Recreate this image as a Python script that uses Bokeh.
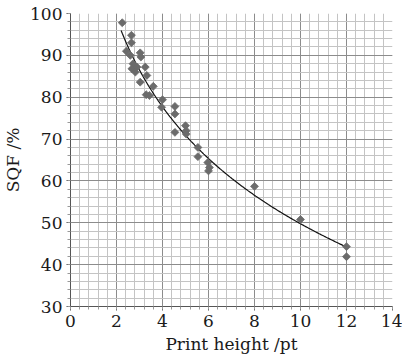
import numpy as np
from bokeh.plotting import figure
from bokeh.models import SingleIntervalTicker, Range1d
from bokeh.embed import file_html
from bokeh.resources import INLINE

# measured points (print height in pt, SQF in %)
height_pt = [2.25, 2.65, 2.65, 2.43, 2.60, 3.03, 3.06, 2.72, 2.67, 2.89,
             3.25, 2.82, 3.03, 3.32, 3.60, 3.29, 3.43, 4.00, 3.96, 4.54,
             4.54, 5.00, 5.03, 4.54, 5.03, 5.54, 5.54, 5.97, 6.04, 6.00,
             8.00, 10.0, 12.0, 12.0]
sqf_pct = [97.8, 94.8, 93.0, 91.0, 90.0, 90.6, 89.6, 88.0, 86.8, 87.2,
           87.2, 86.0, 83.6, 85.2, 82.6, 80.6, 80.4, 79.4, 77.6, 77.8,
           76.0, 73.2, 72.0, 71.6, 71.2, 68.0, 65.8, 64.4, 63.2, 62.4,
           58.7, 50.8, 44.3, 41.9]

# logarithmic trend line: y = a + b*ln(x)
fit_a = 120.0
fit_b = -30.5
fit_x_start = 2.2
fit_x_end = 12.0

x_ticks_interval = 2
y_ticks_interval = 10

p = figure(width=402, height=362, output_backend="svg", toolbar_location=None,
           x_range=Range1d(0, 14), y_range=Range1d(30, 100),
           min_border_left=66, min_border_right=10, min_border_top=13,
           min_border_bottom=56)
p.outline_line_color = None
p.background_fill_color = "white"
p.border_fill_color = "white"

xt = SingleIntervalTicker(interval=x_ticks_interval, num_minor_ticks=5)
yt = SingleIntervalTicker(interval=y_ticks_interval, num_minor_ticks=5)
p.xaxis.ticker = xt
p.yaxis.ticker = yt
p.xgrid.ticker = xt
p.ygrid.ticker = yt

for g in (p.xgrid, p.ygrid):
    g.grid_line_color = "#8c8c8c"
    g.grid_line_width = 1
    g.minor_grid_line_color = "#c4c4c4"
    g.minor_grid_line_width = 1

serif = "DejaVu Serif"
for ax in (p.xaxis, p.yaxis):
    ax.axis_line_color = "#555555"
    ax.major_tick_line_color = "#555555"
    ax.minor_tick_line_color = "#999999"
    ax.major_tick_out = 4
    ax.major_tick_in = 0
    ax.minor_tick_out = 3
    ax.minor_tick_in = 0
    ax.major_label_text_font = serif
    ax.major_label_text_font_size = "17px"
    ax.major_label_text_color = "#1a1a1a"
    ax.axis_label_text_font = serif
    ax.axis_label_text_font_size = "17px"
    ax.axis_label_text_font_style = "normal"
    ax.axis_label_text_color = "#1a1a1a"
    ax.major_label_standoff = 4
    ax.axis_label_standoff = 4

p.xaxis.axis_label = "Print height /pt"
p.yaxis.axis_label = "SQF /%"

cx = np.linspace(fit_x_start, fit_x_end, 200)
cy = fit_a + fit_b * np.log(cx)
p.line(cx, cy, line_color="#111111", line_width=1.2)

p.scatter(height_pt, sqf_pct, marker="square", angle=np.pi / 4, size=5.6,
          fill_color="#6b6b6b", line_color="#6b6b6b", line_width=0.8)

open("out.html", "w").write(file_html(p, INLINE))
